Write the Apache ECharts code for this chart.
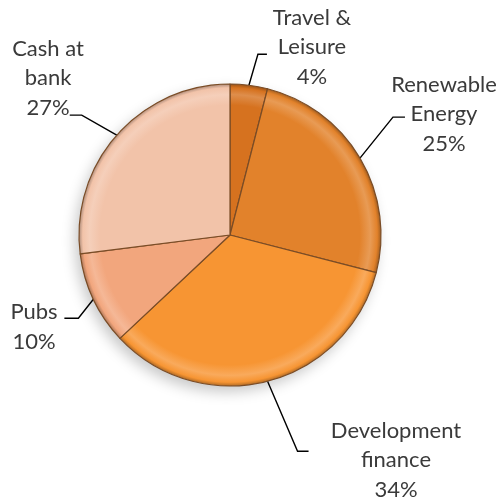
<!DOCTYPE html>
<html>
<head>
<meta charset="utf-8">
<script src="https://cdn.jsdelivr.net/npm/echarts@6/dist/echarts.min.js"></script>
<style>
  html, body { margin: 0; padding: 0; background: #ffffff; }
  #chart { width: 502px; height: 502px; }
</style>
</head>
<body>
<div id="chart"></div>
<script>
// Portfolio split, clockwise from 12 o'clock
const categories = ['Travel &\nLeisure', 'Renewable\nEnergy', 'Development\nfinance', 'Pubs', 'Cash at\nbank'];
const shares = [4, 25, 34, 10, 27];
const sliceColors = ['#d6721f', '#e2822b', '#f79533', '#f2a67d', '#f2c3a9'];

// Pie geometry
const CX = 230, CY = 235, R = 151;

// Label block centres and leader-line bends (offset from the slice edge point)
const labelSpots = [
  { x: 312, y: 47,  bend: [9, -31],  run: 9 },
  { x: 444, y: 114, bend: [33, -41], run: 12 },
  { x: 396, y: 460, bend: [30, 70],  run: 11 },
  { x: 34,  y: 327, bend: [-15, 19], run: -14 },
  { x: 48,  y: 78,  bend: [-35, -20], run: -12 }
];

function shade(hex, f) {
  const n = parseInt(hex.slice(1), 16);
  let r = (n >> 16) & 255, g = (n >> 8) & 255, b = n & 255;
  const mix = (c) => f >= 0 ? Math.round(c + (255 - c) * f) : Math.round(c * (1 + f));
  return 'rgb(' + mix(r) + ',' + mix(g) + ',' + mix(b) + ')';
}

function bevel(base) {
  return {
    type: 'radial', x: CX, y: CY, r: R, global: true,
    colorStops: [
      { offset: 0, color: base },
      { offset: 0.86, color: base },
      { offset: 0.93, color: shade(base, 0.2) },
      { offset: 0.975, color: base },
      { offset: 1, color: shade(base, -0.28) }
    ]
  };
}

const total = shares.reduce((a, b) => a + b, 0);

const pieData = categories.map((name, i) => ({
  name: name,
  value: shares[i],
  itemStyle: { color: bevel(sliceColors[i]) }
}));

const chart = echarts.init(document.getElementById('chart'), null, { renderer: 'canvas' });

chart.setOption({
  animation: false,
  backgroundColor: '#ffffff',
  series: [
    {
      // soft drop shadow behind the whole disc
      type: 'pie',
      silent: true,
      center: [CX, CY],
      radius: R,
      label: { show: false },
      labelLine: { show: false },
      data: [{ value: total, itemStyle: {
        color: '#ffffff',
        shadowBlur: 14,
        shadowColor: 'rgba(0,0,0,0.22)',
        shadowOffsetX: -4,
        shadowOffsetY: 6
      } }]
    },
    {
      type: 'pie',
      center: [CX, CY],
      radius: R,
      startAngle: 90,
      clockwise: true,
      itemStyle: {
        borderColor: '#7a4c26',
        borderWidth: 1.2
      },
      label: {
        show: true,
        position: 'outside',
        overflow: 'none',
        formatter: '{b}\n{c}%',
        fontFamily: 'Lato, "Noto Sans", sans-serif',
        fontSize: 22,
        lineHeight: 29.5,
        color: '#3a3a3a',
        align: 'center',
        verticalAlign: 'middle'
      },
      labelLine: {
        show: true,
        length: 20,
        length2: 10,
        smooth: false,
        lineStyle: { color: '#000000', width: 1.4 }
      },
      labelLayout: function (params) {
        const spot = labelSpots[params.dataIndex];
        const pts = params.labelLinePoints;
        const p0 = pts ? pts[0] : [CX, CY];
        const p1 = [p0[0] + spot.bend[0], p0[1] + spot.bend[1]];
        const p2 = [p1[0] + spot.run, p1[1]];
        return {
          x: spot.x,
          y: spot.y,
          align: 'center',
          verticalAlign: 'middle',
          labelLinePoints: [p0, p1, p2]
        };
      },
      data: pieData
    }
  ]
});
</script>
</body>
</html>
